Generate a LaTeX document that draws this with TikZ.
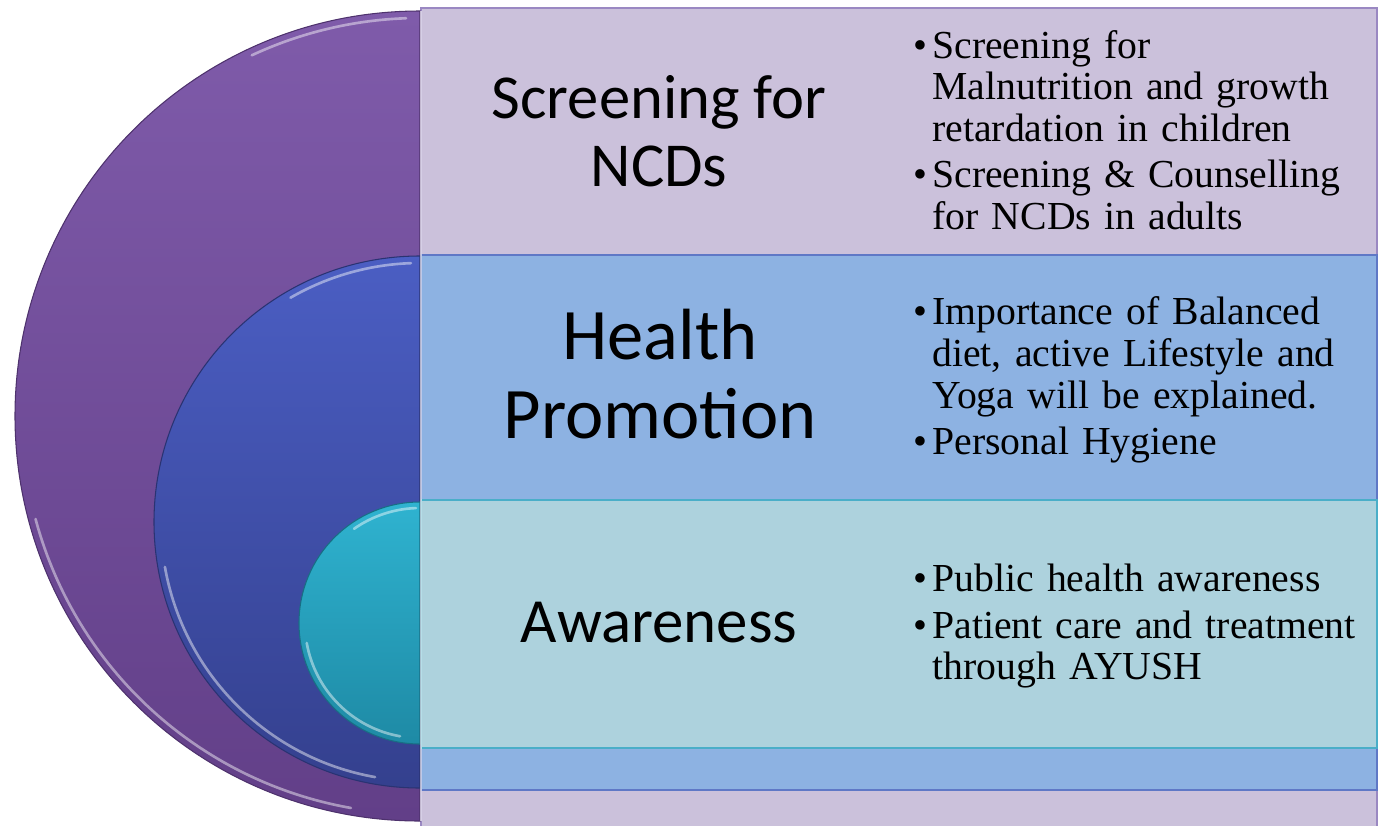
\documentclass[tikz,border=0pt]{standalone}
\usepackage{fontspec}
\setmainfont{Liberation Serif}
\newfontfamily\headfont{Carlito}
\usepackage{xcolor}
\definecolor{discpurpletop}{HTML}{7F5BAA}
\definecolor{discpurplebot}{HTML}{623F88}
\definecolor{discbluetop}{HTML}{4B5EC3}
\definecolor{discbluebot}{HTML}{34408E}
\definecolor{disccyantop}{HTML}{2FB3D0}
\definecolor{disccyanbot}{HTML}{1E8AA5}
\definecolor{rowlavender}{HTML}{CBC1DB}
\definecolor{rowblue}{HTML}{8DB2E2}
\definecolor{rowcyan}{HTML}{ADD2DD}
\definecolor{lavenderedge}{HTML}{9A88C2}
\definecolor{blueedge}{HTML}{5F78C6}
\definecolor{cyanedge}{HTML}{4AAEC8}
\newcommand{\bulletgap}{10.8pt}
\newcommand{\bul}[1]{\par\hangindent=\bulletgap\hangafter=1\noindent\makebox[\bulletgap][l]{\textbullet}#1\par}

\begin{document}
\begin{tikzpicture}[x=0.02cm,y=-0.02cm]
  \useasboundingbox (0,0) rectangle (1382,825);
  \clip (0,0) rectangle (1382,825);

  % rows
  \filldraw[fill=rowlavender,draw=lavenderedge,line width=1pt] (421,8) rectangle (1377,840);
  \filldraw[fill=rowblue,draw=blueedge,line width=1pt] (421,255) rectangle (1377,790);
  \filldraw[fill=rowcyan,draw=cyanedge,line width=1pt] (421,500) rectangle (1377,748);

  % half discs
  \begin{scope}[every path/.style={line width=.6pt}]
    \shadedraw[top color=discpurpletop,bottom color=discpurplebot,draw=discpurplebot!80!black]
      (420,821) arc[start angle=90,end angle=270,radius=405] -- cycle;
    \shadedraw[top color=discbluetop,bottom color=discbluebot,draw=discbluebot!80!black]
      (420,788) arc[start angle=90,end angle=270,radius=266] -- cycle;
    \shadedraw[top color=disccyantop,bottom color=disccyanbot,draw=disccyanbot!80!black]
      (420,744) arc[start angle=90,end angle=270,radius=121] -- cycle;
  \end{scope}

  % bevel highlights
  \begin{scope}[white,opacity=.45,line width=1.5pt,line cap=round]
    \draw (420,416) ++(100:398) arc[start angle=100,end angle=165,radius=398];
    \draw (420,416) ++(245:398) arc[start angle=245,end angle=268,radius=398];
    \draw (420,522) ++(100:259) arc[start angle=100,end angle=170,radius=259];
    \draw (420,522) ++(240:259) arc[start angle=240,end angle=268,radius=259];
    \draw (420,623) ++(100:115) arc[start angle=100,end angle=170,radius=115];
    \draw (420,623) ++(235:115) arc[start angle=235,end angle=268,radius=115];
  \end{scope}
  \draw[white,opacity=.6,line width=1pt] (421,11) -- (421,821);

  % headings
  \begin{scope}[every node/.style={inner sep=0pt,align=center}]
    \node[font={\headfont\fontsize{35.6}{38.5}\selectfont}] (screenhead) at (659,131) {Screening for\\NCDs};
    \node[font={\headfont\fontsize{41.3}{45.4}\selectfont}] (healthhead) at (660,374) {Health\\Promotion};
    \node[font={\headfont\fontsize{35.8}{40}\selectfont}] (awarehead) at (659,623) {Awareness};
  \end{scope}

  % bullet lists
  \begin{scope}[every node/.style={inner sep=0pt,anchor=west,text width=9.2cm,align=left,
      font={\fontsize{22.6}{23.8}\selectfont},execute at begin node={\setlength{\parskip}{2.5pt}}}]
    \node (screenlist) at (913,121) {\bul{Screening for\newline Malnutrition and growth\newline retardation in children}\bul{Screening \& Counselling\newline for NCDs in adults}};
    \node (healthlist) at (913,371) {\bul{Importance of Balanced\newline diet, active Lifestyle and\newline Yoga will be explained.}\bul{Personal Hygiene}};
    \node (awarelist) at (913,617) {\bul{Public health awareness}\bul{Patient care and treatment\newline through AYUSH}};
  \end{scope}
\end{tikzpicture}
\end{document}
